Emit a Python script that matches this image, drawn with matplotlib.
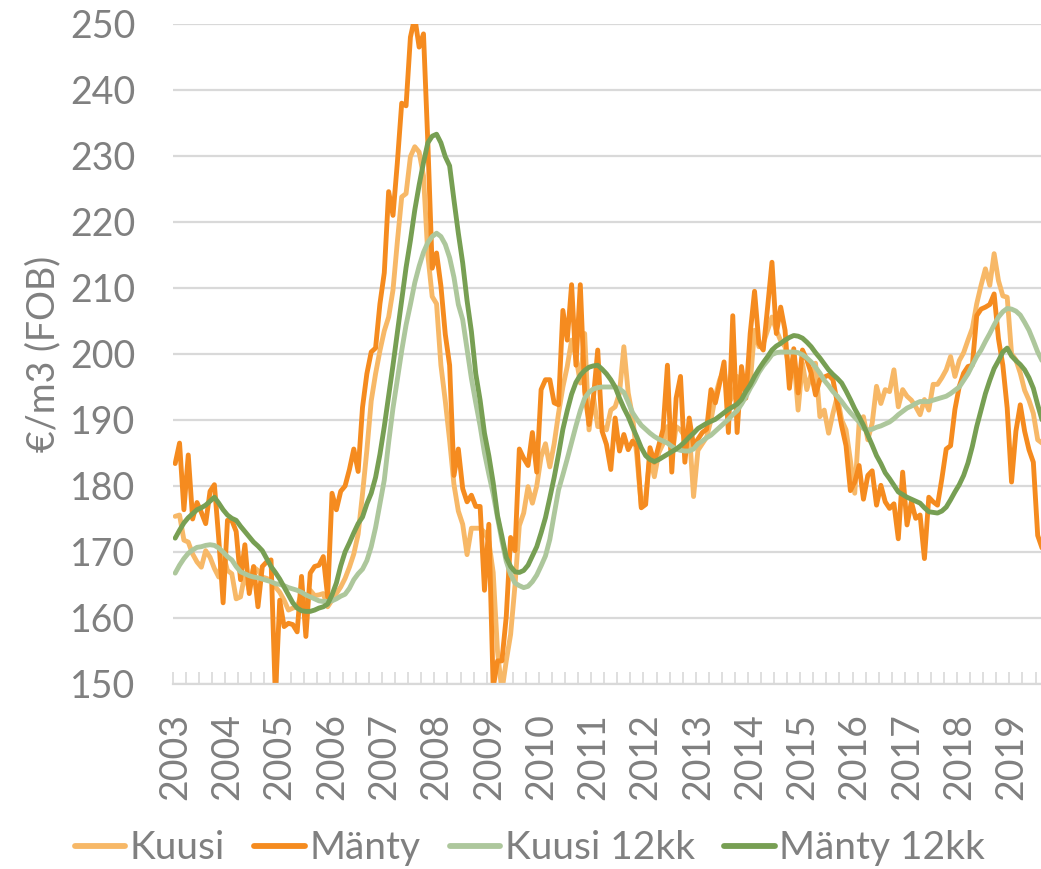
import matplotlib
matplotlib.use("Agg")
import matplotlib.pyplot as plt
import numpy as np

# Monthly data, Jan 2003 onwards (EUR/m3 FOB)
kuusi = [
    175.4, 175.6, 171.8, 171.5, 169.7, 168.5, 167.7, 170.2, 169.2, 167.5, 166.2, 169.7,
    167.2, 166.7, 162.9, 163.2, 166.7, 164.2, 167.7, 167.2, 166.2, 166.0, 165.7, 164.7,
    163.9, 162.7, 161.2, 161.5, 161.7, 163.7, 162.2, 164.2, 163.4, 163.5, 163.7, 161.7,
    162.7, 163.7, 164.7, 166.0, 167.7, 169.7, 172.7, 178.8, 185.4, 192.9, 197.0, 200.5,
    203.5, 205.6, 209.7, 217.0, 223.8, 224.3, 229.9, 231.4, 230.6, 227.0, 215.0, 208.7,
    207.6, 198.3, 192.9, 186.9, 180.2, 176.2, 174.2, 169.6, 173.6, 173.6, 173.6, 173.0,
    171.6, 166.9, 154.9, 148.9, 153.5, 157.5, 164.9, 174.0, 175.9, 179.9, 177.4, 180.0,
    184.4, 186.4, 182.9, 186.4, 191.0, 195.0, 198.1, 202.1, 199.6, 195.6, 203.1, 188.5,
    193.6, 189.0, 189.0, 188.5, 191.5, 192.0, 194.1, 201.1, 194.1, 190.5, 184.4, 176.9,
    178.4, 184.4, 181.4, 185.0, 186.4, 189.0, 184.4, 189.0, 188.5, 187.5, 188.5, 178.4,
    185.4, 186.4, 187.4, 190.0, 193.6, 196.1, 197.6, 192.5, 193.6, 196.6, 192.5, 194.0,
    195.6, 203.6, 201.1, 201.6, 203.6, 205.6, 203.6, 202.0, 201.1, 197.6, 199.6, 191.5,
    198.6, 194.6, 197.0, 198.6, 190.5, 191.5, 188.0, 191.0, 193.6, 190.0, 188.5, 183.9,
    178.9, 189.5, 190.5, 187.0, 189.5, 195.1, 192.5, 194.6, 194.3, 197.6, 192.0, 194.6,
    193.6, 193.0, 192.0, 190.8, 193.1, 191.5, 195.4, 195.4, 196.4, 197.6, 199.6, 196.6,
    199.0, 200.2, 202.1, 203.9, 207.6, 210.4, 212.9, 210.4, 215.2, 211.1, 208.8, 208.6,
    200.0, 199.1, 197.1, 194.5, 193.0, 191.0, 187.0, 186.5,
]

manty = [
    183.4, 186.5, 176.4, 184.7, 175.0, 177.5, 176.0, 174.3, 179.2, 180.2, 172.0, 162.3,
    174.8, 174.8, 173.1, 165.8, 171.1, 163.7, 167.8, 161.7, 167.8, 168.5, 168.8, 148.0,
    162.7, 158.7, 159.2, 159.0, 157.9, 166.3, 157.2, 166.8, 167.8, 168.0, 169.3, 163.2,
    178.9, 176.4, 179.2, 180.0, 182.5, 185.6, 182.2, 191.9, 197.0, 200.3, 200.9, 207.6,
    212.3, 224.6, 221.0, 229.0, 238.0, 237.6, 248.0, 251.0, 246.5, 248.5, 232.0, 213.0,
    215.3, 210.3, 203.0, 198.3, 181.6, 185.6, 179.6, 177.6, 178.6, 176.9, 176.9, 164.2,
    174.2, 149.5, 153.5, 153.5, 160.2, 172.2, 170.2, 185.6, 184.2, 183.1, 188.1, 182.1,
    194.6, 196.1, 196.1, 192.6, 192.3, 206.6, 202.1, 210.5, 198.3, 210.5, 194.3, 189.3,
    193.3, 200.6, 188.3, 186.3, 182.5, 190.3, 185.3, 187.8, 185.5, 186.8, 186.0, 176.7,
    177.2, 185.8, 183.6, 186.1, 188.6, 198.3, 182.1, 193.3, 196.6, 183.6, 190.3, 186.1,
    187.1, 188.1, 188.6, 194.6, 192.6, 195.6, 198.8, 188.1, 205.8, 188.1, 198.1, 193.3,
    203.1, 209.5, 201.6, 200.6, 207.1, 213.9, 203.1, 207.1, 203.6, 194.8, 200.8, 194.1,
    200.6, 199.1, 197.1, 193.8, 196.1, 196.5, 196.8, 196.1, 192.6, 189.1, 186.1, 179.3,
    180.6, 183.1, 178.0, 181.6, 182.3, 177.1, 180.1, 177.6, 176.6, 177.3, 172.0, 182.1,
    174.1, 177.6, 175.1, 175.6, 169.0, 178.3, 177.6, 177.1, 181.1, 185.6, 186.1, 191.6,
    195.1, 197.1, 198.1, 198.3, 205.8, 206.8, 207.1, 207.5, 209.1, 202.3, 198.3, 191.8,
    180.6, 188.3, 192.3, 188.3, 185.5, 183.6, 172.5, 170.6,
]

kuusi_12kk = [
    166.8, 168.0, 169.0, 169.8, 170.3, 170.7, 170.8, 171.0, 171.1, 171.0, 170.6, 170.0,
    169.3, 168.8, 167.8, 167.0, 166.7, 166.4, 166.2, 166.1, 165.9, 165.7, 165.5, 165.2,
    165.1, 164.9, 164.6, 164.4, 164.2, 163.9, 163.5, 163.2, 162.9, 162.6, 162.5, 162.5,
    162.6, 162.9, 163.3, 163.6, 164.5, 165.8, 166.7, 167.4, 168.7, 170.8, 173.7, 177.3,
    180.9, 186.6, 191.8, 196.2, 200.5, 204.4, 207.5, 210.8, 213.3, 215.4, 216.9, 217.8,
    218.3, 217.8, 216.6, 214.6, 211.6, 207.5, 205.2, 200.7, 196.3, 192.6, 189.1, 185.0,
    181.8, 178.8, 175.2, 171.7, 168.6, 166.6, 165.3, 164.9, 164.6, 164.8, 165.5, 166.5,
    167.9, 169.4, 171.9, 175.7, 179.4, 181.7, 184.1, 186.6, 189.1, 191.4, 193.3, 194.2,
    194.7, 194.9, 195.0, 195.0, 195.0, 195.0, 194.7, 194.2, 192.7, 191.1, 190.1, 189.2,
    188.6, 188.0, 187.5, 187.1, 186.8, 186.5, 186.0, 185.6, 185.4, 185.3, 185.3, 185.6,
    186.4, 186.8, 187.3, 187.7, 188.3, 188.9, 189.5, 190.1, 190.8, 191.4, 192.4, 193.5,
    194.8, 195.9, 197.2, 198.2, 199.0, 199.9, 200.2, 200.3, 200.3, 200.3, 200.3, 200.2,
    199.9, 199.4, 198.8, 198.0, 197.1, 196.0, 195.2, 194.3, 193.6, 192.8, 191.9, 191.1,
    190.4, 189.7, 188.7, 188.5, 188.6, 188.9, 189.1, 189.4, 189.7, 190.2, 190.8, 191.3,
    191.8, 192.1, 192.5, 192.8, 192.8, 192.8, 193.0, 193.2, 193.4, 193.6, 194.0, 194.5,
    195.0, 196.0, 197.0, 198.3, 199.6, 200.6, 201.9, 203.1, 204.4, 205.6, 206.4, 206.9,
    206.8, 206.5, 205.9, 204.8, 203.6, 202.0, 200.3, 199.0,
]

manty_12kk = [
    172.1, 173.3, 174.4, 175.2, 175.8, 176.4, 176.7, 177.1, 177.7, 178.3, 177.4, 176.4,
    175.6, 175.1, 174.8, 173.9, 173.1, 172.3, 171.5, 170.9, 170.2, 169.0, 167.8, 166.9,
    165.9, 164.7, 163.5, 162.3, 161.5, 161.1, 161.0, 161.0, 161.2, 161.5, 161.7, 162.1,
    163.5, 165.3, 167.9, 170.0, 171.4, 172.9, 174.3, 175.3, 177.3, 178.9, 181.3, 184.8,
    189.0, 193.6, 198.3, 203.2, 208.1, 213.1, 217.2, 221.8, 225.6, 229.0, 232.0, 233.0,
    233.3, 232.0, 229.9, 228.5, 223.3, 218.3, 213.8, 208.1, 203.4, 197.0, 193.0, 188.0,
    184.6, 180.5, 175.5, 172.4, 169.2, 167.8, 167.0, 166.9, 167.2, 168.0, 169.4, 170.8,
    172.9, 175.2, 178.2, 181.3, 184.8, 188.6, 191.4, 193.9, 195.7, 196.8, 197.5, 198.0,
    198.2, 198.3, 197.7, 197.0, 196.1, 195.0, 193.3, 191.8, 190.5, 188.9, 187.4, 185.8,
    184.6, 184.0, 183.7, 184.0, 184.4, 184.8, 185.2, 185.6, 186.1, 186.7, 187.4, 188.0,
    188.7, 189.1, 189.5, 189.8, 190.1, 190.6, 191.1, 191.6, 192.0, 192.4, 193.1, 194.3,
    195.3, 196.6, 197.7, 198.7, 199.6, 200.6, 201.2, 201.6, 202.1, 202.5, 202.8, 202.7,
    202.4, 201.8, 201.1, 200.2, 199.4, 198.5, 197.6, 196.9, 196.3, 195.6, 194.4, 193.1,
    191.7, 190.5, 189.2, 187.7, 186.2, 184.6, 183.4, 182.0, 181.1, 180.1, 179.1, 178.7,
    178.3, 178.0, 177.7, 177.4, 176.7, 176.1, 176.0, 175.9, 176.2, 176.8, 177.9, 179.1,
    180.2, 181.6, 183.5, 186.0, 189.0, 191.5, 194.0, 196.0, 197.8, 199.0, 200.3, 200.9,
    199.7, 199.0, 198.4, 197.6, 196.4, 194.8, 192.3, 190.0,
]

years = [str(y) for y in range(2003, 2020)]
series_names = ["Kuusi", "Mänty", "Kuusi 12kk", "Mänty 12kk"]
colors = ["#F7B867", "#F58B1F", "#ADC79C", "#779F53"]

plt.rcParams['font.family'] = ['Lato', 'DejaVu Sans']
gray = "#808080"
grid_c = "#D9D9D9"
FS = 27

fig = plt.figure(figsize=(10.41, 8.69), dpi=100)
ax = fig.add_axes([0.1662, 0.2129, 0.8369, 0.7595])

x = np.arange(len(manty))
for data, name, c in zip([kuusi, manty, kuusi_12kk, manty_12kk], series_names, colors):
    ax.plot(x, data, color=c, lw=3.5, label=name, solid_joinstyle='round',
            solid_capstyle='round')

ax.set_ylim(150, 250)
ax.set_xlim(-0.5, len(manty) - 0.5)
ax.set_yticks(np.arange(150, 251, 10))
ax.yaxis.grid(True, color=grid_c, lw=1.6)
ax.set_axisbelow(True)
for s in ["top", "right", "left"]:
    ax.spines[s].set_visible(False)
ax.spines["bottom"].set_color(grid_c)
ax.spines["bottom"].set_linewidth(1.6)

ax.set_xticks(np.arange(0, len(manty), 12))
ax.set_xticklabels(years, rotation=90)
ax.set_xticks(np.arange(-0.5, len(manty), 3), minor=True)
ax.tick_params(axis='x', which='major', length=0, pad=21, labelsize=FS, labelcolor=gray)
ax.tick_params(axis='x', which='minor', direction='in', length=8.5, width=1.2, color=grid_c)
ax.tick_params(axis='y', length=0, pad=27, labelsize=FS, labelcolor=gray)

ax.set_ylabel("€/m3 (FOB)", fontsize=FS, color=gray)
ax.yaxis.set_label_coords(-0.128, 0.5)

handles, labels = ax.get_legend_handles_labels()
leg = fig.legend(handles, labels, loc='center', bbox_to_anchor=(0.509, 0.024), ncol=4,
                 frameon=False, fontsize=28, handlelength=1.3, handletextpad=0.12,
                 columnspacing=0.75, labelcolor=gray)
for h in leg.legend_handles:
    h.set_linewidth(4.2)

fig.savefig("out.png", dpi=100)
